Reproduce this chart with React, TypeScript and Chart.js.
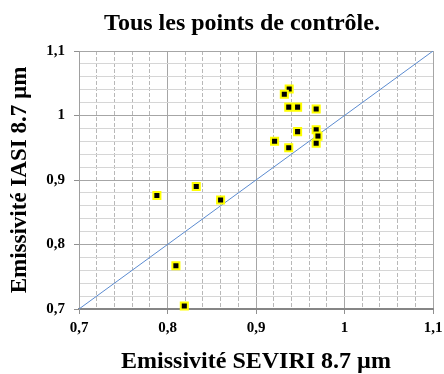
import React, { useEffect, useRef } from 'react';
import { Chart, registerables } from 'chart.js';

Chart.register(...registerables);

const TITLE = 'Tous les points de contrôle.';
const X_TITLE = 'Emissivité SEVIRI 8.7 µm';
const Y_TITLE = 'Emissivité IASI 8.7 µm';

const seviri = [0.9375, 0.932, 0.937, 0.947, 0.968, 0.947, 0.968, 0.970, 0.921, 0.968, 0.937, 0.788, 0.8325, 0.860, 0.8095, 0.819];
const iasi = [1.041, 1.033, 1.013, 1.013, 1.010, 0.975, 0.978, 0.968, 0.960, 0.957, 0.950, 0.876, 0.890, 0.869, 0.767, 0.7047];

const diagX = [0.7, 1.1];
const diagY = [0.7, 1.1];

const majorTicks = [0.7, 0.8, 0.9, 1.0, 1.1];
const majorLabels = ['0,7', '0,8', '0,9', '1', '1,1'];
const minorPerMajor = 5;

const FONT = '"Liberation Serif", "Times New Roman", serif';

function minorTicks() {
  const out: { value: number }[] = [];
  for (let i = 0; i < majorTicks.length - 1; i++) {
    const a = majorTicks[i];
    const b = majorTicks[i + 1];
    for (let j = 0; j < minorPerMajor; j++) {
      out.push({ value: Math.round((a + ((b - a) * j) / minorPerMajor) * 1000) / 1000 });
    }
  }
  out.push({ value: majorTicks[majorTicks.length - 1] });
  return out;
}

const titlePlugin = {
  id: 'customTitle',
  afterDraw(chart: any) {
    const ctx = chart.ctx;
    ctx.save();
    ctx.font = `bold 24px ${FONT}`;
    ctx.textAlign = 'center';
    ctx.textBaseline = 'alphabetic';
    ctx.fillStyle = '#000';
    ctx.fillText(TITLE, 242, 30);
    ctx.restore();
  },
};

export default function App() {
  const ref = useRef<HTMLCanvasElement>(null);
  useEffect(() => {
    if (!ref.current) return;
    const chart = new Chart(ref.current, {
      type: 'scatter',
      data: {
        datasets: [
          {
            data: seviri.map((x, i) => ({ x, y: iasi[i] })),
            pointStyle: 'rect',
            pointRadius: 5,
            pointHoverRadius: 5,
            backgroundColor: '#000000',
            borderColor: '#FFFF00',
            borderWidth: 2,
            clip: false,
            xAxisID: 'x',
            yAxisID: 'y',
          } as any,
          {
            data: diagX.map((x, i) => ({ x, y: diagY[i] })),
            showLine: true,
            pointRadius: 0,
            borderColor: '#5B8BD0',
            borderWidth: 1,
            xAxisID: 'x',
            yAxisID: 'y',
          } as any,
        ],
      },
      options: {
        animation: false,
        responsive: false,
        events: [],
        layout: { padding: { left: 0, right: 11, top: 51, bottom: 0 } },
        plugins: { legend: { display: false }, tooltip: { enabled: false }, title: { display: false } },
        scales: {
          x: {
            type: 'linear',
            position: 'bottom',
            min: 0.7,
            max: 1.1,
            afterBuildTicks: (s: any) => { s.ticks = minorTicks(); },
            afterFit: (s: any) => { s.height = 65; s.paddingRight = 0; },
            grid: {
              color: (c: any) => (c.index % minorPerMajor === 0 ? 'rgba(0,0,0,0)' : '#b8b8b8'),
              tickColor: (c: any) => (c.index % minorPerMajor === 0 ? '#909090' : 'rgba(0,0,0,0)'),
              tickLength: 5,
              lineWidth: 1,
            },
            border: { display: true, color: '#868686', width: 2, dash: [4, 2] },
            ticks: {
              autoSkip: false,
              maxRotation: 0,
              padding: 5,
              color: '#000',
              font: { family: FONT, size: 15, weight: 'bold' },
              callback: (_v: any, i: number) => (i % minorPerMajor === 0 ? majorLabels[i / minorPerMajor] : ''),
            },
            title: {
              display: true,
              text: X_TITLE,
              color: '#000',
              font: { family: FONT, size: 24, weight: 'bold', lineHeight: 1 },
              padding: { top: 0, bottom: 0 },
            },
          },
          x2: {
            type: 'linear',
            position: 'bottom',
            min: 0.7,
            max: 1.1,
            afterBuildTicks: (s: any) => { s.ticks = majorTicks.map((v) => ({ value: v })); },
            afterFit: (s: any) => { s.height = 0; s.paddingRight = 0; s.paddingLeft = 0; },
            grid: { color: '#a6a6a6', lineWidth: 1, drawTicks: false },
            border: { display: false },
            ticks: { display: false },
          },
          y: {
            type: 'linear',
            min: 0.7,
            max: 1.1,
            afterBuildTicks: (s: any) => { s.ticks = minorTicks(); },
            afterFit: (s: any) => { s.width = 79; },
            grid: {
              color: (c: any) => (c.index % minorPerMajor === 0 ? '#a6a6a6' : '#d6d6d6'),
              tickColor: (c: any) => (c.index % minorPerMajor === 0 ? '#909090' : 'rgba(0,0,0,0)'),
              tickLength: 5,
              lineWidth: 1,
            },
            border: { display: true, color: '#a0a0a0', width: 1 },
            ticks: {
              autoSkip: false,
              padding: 9,
              color: '#000',
              font: { family: FONT, size: 15, weight: 'bold' },
              callback: (_v: any, i: number) => (i % minorPerMajor === 0 ? majorLabels[i / minorPerMajor] : ''),
            },
            title: {
              display: true,
              text: Y_TITLE,
              color: '#000',
              font: { family: FONT, size: 23, weight: 'bold', lineHeight: 1 },
              padding: { top: 9, bottom: 0 },
            },
          },
        },
      } as any,
      plugins: [titlePlugin],
    });
    return () => chart.destroy();
  }, []);
  return (
    <div style={{ width: 428, height: 358 }}>
      <canvas ref={ref} width={444} height={374} style={{ display: 'block', position: 'fixed', left: 0, top: 0 }} />
    </div>
  );
}
